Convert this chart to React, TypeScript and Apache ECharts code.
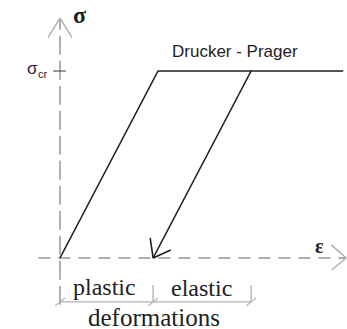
import React, { useEffect, useRef } from "react";
import * as echarts from "echarts";

// Stress-strain (Drucker - Prager): strain units = elastic strain at sigma_cr, stress units = sigma_cr
const loadingEps = [0, 1, 2.89];
const loadingSig = [0, 1, 1];
const unloadEps = [1.95, 0.95];
const unloadSig = [1, 0];
const arrowHeadEps = [0.92, 0.95, 1.13];
const arrowHeadSig = [0.107, 0, 0.043];

// axes (drawn dashed)
const xAxisEps = [-0.22, 2.92];
const xAxisSig = [0, 0];
const xArrowEps = [2.77, 2.92, 2.77];
const xArrowSig = [0.07, 0, -0.064];
const yAxisEps = [0, 0];
const yAxisSig = [-0.25, 1.283];
const yArrowEps = [-0.122, 0, 0.122];
const yArrowSig = [1.18, 1.283, 1.18];
const sigCrTickEps = [-0.07, 0.06];
const sigCrTickSig = [1, 1];

// dimension line "plastic | elastic"
const dimEps = [0, 0.95, 1.95];
const dimLineSig = -0.235;
const dimTickTopSig = -0.144;

const labels = {
  sigma: "σ",
  sigmaCr: "σ",
  cr: "cr",
  eps: "ε",
  model: "Drucker - Prager",
  plastic: "plastic",
  elastic: "elastic",
  deformations: "deformations",
};

const zip = (a: number[], b: number[]) => a.map((v, i) => [v, b[i]]);

export default function App() {
  const ref = useRef<HTMLDivElement>(null);
  useEffect(() => {
    if (!ref.current) return;
    const chart = echarts.init(ref.current, undefined, { renderer: "svg" });
    const black = "#1e1e1e";
    const gray = "#b0b0b0";
    const line = (data: number[][], color: string, width: number, dash?: number[]) => ({
      type: "line",
      data,
      symbol: "none",
      clip: false,
      silent: true,
      lineStyle: { color, width, type: dash ? dash : "solid", cap: "butt" },
    });
    const series: any[] = [
      line(zip(xAxisEps, xAxisSig), gray, 2, [12, 8]),
      line(zip(xArrowEps, xArrowSig), gray, 1.5),
      line(zip(yAxisEps, yAxisSig), gray, 2, [19, 6]),
      line(zip(yArrowEps, yArrowSig), gray, 1.5),
      line(zip(sigCrTickEps, sigCrTickSig), "#555", 1.2),
      line(zip(loadingEps, loadingSig), black, 1.6),
      line(zip(unloadEps, unloadSig), black, 1.6),
      line(zip(arrowHeadEps, arrowHeadSig), black, 1.6),
      line(
        [
          [dimEps[0], dimLineSig],
          [dimEps[2], dimLineSig],
        ],
        gray,
        1.3
      ),
    ];
    dimEps.forEach((e, i) => {
      if (i > 0) series.push(line([[e, dimTickTopSig], [e, dimLineSig]], gray, 1.3));
      series.push(
        line(
          [
            [e - 0.05, dimLineSig - 0.021],
            [e + 0.05, dimLineSig + 0.021],
          ],
          gray,
          1.1
        )
      );
    });

    const serif = "'Liberation Serif', 'Times New Roman', serif";
    const sans = "'Liberation Sans', Arial, sans-serif";
    const txt = (text: string, x: number, y: number, font: string, fill = black) => ({
      type: "text",
      x,
      y,
      silent: true,
      style: { text, font, fill, verticalAlign: "middle", align: "left" },
    });

    chart.setOption({
      animation: false,
      grid: { left: 0, right: 0, top: 0, bottom: 0 },
      xAxis: { type: "value", min: -60 / 98, max: 287 / 98, show: false },
      yAxis: { type: "value", min: -71 / 187, max: 258 / 187, show: false },
      series,
      graphic: [
        txt(labels.sigma, 73, 15, `bold 24px ${serif}`),
        txt(labels.sigmaCr, 27, 68, `17px ${sans}`),
        txt(labels.cr, 38, 74, `11px ${sans}`),
        txt(labels.model, 172, 51, `17px ${sans}`),
        txt(labels.eps, 315, 246, `bold 20px ${serif}`),
        txt(labels.plastic, 73, 287, `24px ${serif}`),
        txt(labels.elastic, 171, 288, `24px ${serif}`),
        txt(labels.deformations, 88, 317, `25px ${serif}`),
      ],
    });
    return () => chart.dispose();
  }, []);
  return (
    <div
      ref={ref}
      style={{ position: "absolute", left: 0, top: 0, width: 347, height: 329 }}
    />
  );
}
